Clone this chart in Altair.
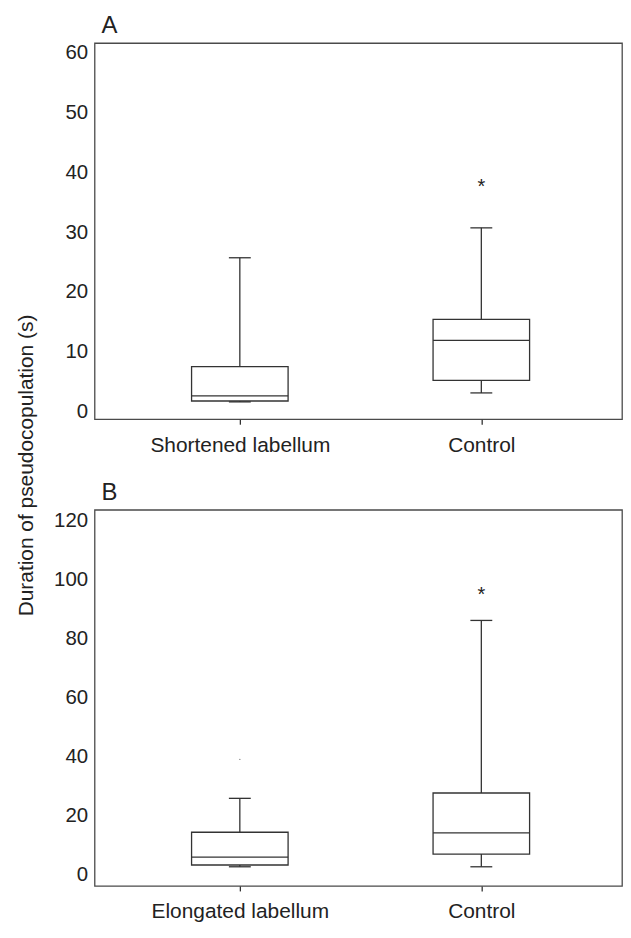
import altair as alt
import pandas as pd

# ---- Panel A data (Shortened labellum vs Control) ----
groups_a = ["Shortened labellum", "Control"]
low_a = [1.6, 3.1]
q1_a = [1.75, 5.2]
median_a = [2.6, 11.9]
q3_a = [7.5, 15.4]
high_a = [25.7, 30.7]
out_group_a = ["Control"]
out_value_a = [37.9]
out_kind_a = ["extreme"]

# ---- Panel B data (Elongated labellum vs Control) ----
groups_b = ["Elongated labellum", "Control"]
low_b = [2.6, 2.6]
q1_b = [3.2, 6.9]
median_b = [5.9, 14.1]
q3_b = [14.3, 27.6]
high_b = [25.8, 86.1]
out_group_b = ["Elongated labellum", "Control"]
out_value_b = [39.0, 95.4]
out_kind_b = ["outlier", "extreme"]

ticks_a = [0, 10, 20, 30, 40, 50, 60]
ticks_b = [0, 20, 40, 60, 80, 100, 120]
domain_a = [-1.3, 61.6]
domain_b = [-3.9, 123.6]

INK = "#333333"
FRAME = "#4a4a4a"
TXT = "#222222"
FONT = "Liberation Sans"
SW = 1.3
W = 530


def xscale():
    return alt.Scale(type="point", padding=0.592, align=0.508)


def panel(label, groups, lo, q1, med, q3, hi, og, ov, ok, domain, ticks, height, ytitle):
    box = pd.DataFrame({"g": groups, "lo": lo, "q1": q1, "med": med, "q3": q3, "hi": hi})
    outs = pd.DataFrame({"g": og, "v": ov, "k": ok})

    xenc = alt.X(
        "g:N", sort=groups, scale=xscale(),
        axis=alt.Axis(title=None, labelAngle=0, domain=False, ticks=True, tickSize=5,
                      tickColor=INK, tickWidth=SW, labelFontSize=21, labelFont=FONT,
                      labelColor=TXT, labelPadding=10, labelLimit=0, grid=False),
    )
    axis_kw = dict(values=ticks, domain=False, ticks=False, tickSize=0, grid=False,
                   labelFontSize=20.5, labelFont=FONT, labelColor=TXT, labelPadding=7)
    if ytitle:
        axis_kw.update(title=ytitle, titleFont=FONT, titleFontSize=21, titleFontWeight="normal",
                       titleColor=TXT, titleAngle=270, titleAlign="center", titleLimit=0,
                       titleBaseline="alphabetic", titleX=-62, titleY=424)
    else:
        axis_kw.update(title=None)
    yaxis = alt.Axis(**axis_kw)
    ysc = alt.Scale(domain=domain, nice=False, zero=False)

    def Y(f):
        return alt.Y(f + ":Q", scale=ysc, axis=yaxis)

    base = alt.Chart(box).encode(x=xenc)
    body = base.mark_bar(size=97, fill="white", stroke=INK, strokeWidth=SW).encode(y=Y("q1"), y2="q3")
    up = base.mark_rule(color=INK, strokeWidth=SW).encode(y=Y("q3"), y2="hi")
    down = base.mark_rule(color=INK, strokeWidth=SW).encode(y=Y("lo"), y2="q1")
    cap_hi = base.mark_tick(size=22, thickness=SW, color=INK, opacity=1).encode(y=Y("hi"))
    cap_lo = base.mark_tick(size=22, thickness=SW, color=INK, opacity=1).encode(y=Y("lo"))
    mid = base.mark_tick(size=97, thickness=SW, color=INK, opacity=1).encode(y=Y("med"))

    ob = alt.Chart(outs).encode(x=alt.X("g:N", sort=groups, scale=xscale()), y=Y("v"))
    stars = ob.transform_filter(alt.datum.k == "extreme").mark_text(
        text="*", font=FONT, fontSize=20, color=TXT, baseline="alphabetic", dy=8)
    dots = ob.transform_filter(alt.datum.k == "outlier").mark_circle(size=2, color="#888888", opacity=1)

    return alt.layer(body, down, up, cap_hi, cap_lo, mid, stars, dots).properties(
        width=W, height=height,
        title=alt.TitleParams(label, anchor="start", frame="group", fontSize=24, fontWeight="normal",
                              font=FONT, color=TXT, offset=5, dx=7),
    )


pa = panel("A", groups_a, low_a, q1_a, median_a, q3_a, high_a, out_group_a, out_value_a, out_kind_a,
           domain_a, ticks_a, 378, "Duration of pseudocopulation (s)")
pb = panel("B", groups_b, low_b, q1_b, median_b, q3_b, high_b, out_group_b, out_value_b, out_kind_b,
           domain_b, ticks_b, 378, None)

chart = alt.vconcat(pa, pb, spacing=91, bounds="flush").properties(
    padding={"left": 7, "top": 2, "right": 0, "bottom": 0}
).configure_view(stroke=FRAME, strokeWidth=SW).configure_axis(labelFontWeight="normal")

chart.save("out.html", embed_options={"renderer": "svg", "actions": False})
